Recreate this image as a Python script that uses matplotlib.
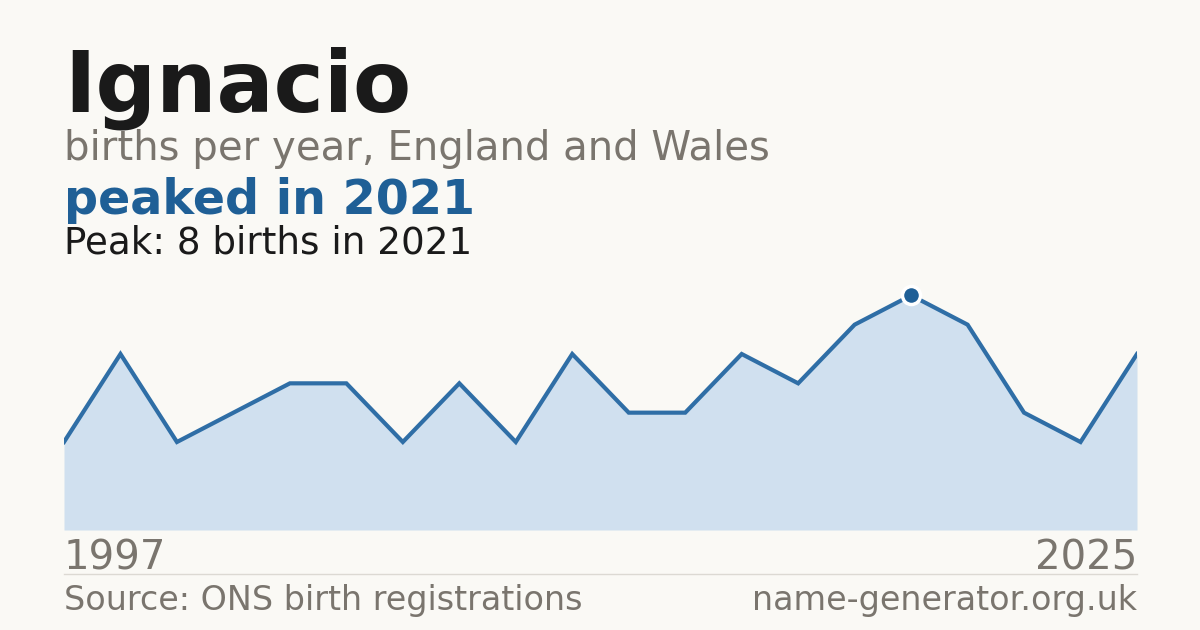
import matplotlib.pyplot as plt

plt.rcParams['font.family'] = ['DejaVu Sans']

# data (evenly spaced points, first 1997, last 2025)
births = [3, 6, 3, 4, 5, 5, 3, 5, 3, 6, 4, 4, 6, 5, 7, 8, 7, 4, 3, 6]
first_year = "1997"
last_year = "2025"
peak_year = 2021
peak_value = max(births)
peak_idx = births.index(peak_value)

bg = '#faf9f5'
blue = '#1f5f96'
grey = '#7a756e'

W, H = 1200, 630
fig = plt.figure(figsize=(12, 6.3), dpi=100, facecolor=bg)

# chart area: x 64..1137 px, y 530 (bottom) .. 266 (top)
ax = fig.add_axes([64 / W, (H - 530) / H, (1137 - 64) / W, (530 - 266) / H])
ax.set_facecolor(bg)
x = list(range(len(births)))
ax.fill_between(x, births, 0, color='#d0e0ef', lw=0)
ax.plot(x, births, color='#2f6ea6', lw=3, solid_joinstyle='miter')
ax.plot(peak_idx, peak_value, 'o', ms=13, color=blue, mec='white', mew=2.5, clip_on=False, zorder=5)
ax.set_xlim(0, len(births) - 1)
ax.set_ylim(0, 9.0)
ax.axis('off')

# text
fig.text(64 / W, 1 - 112 / H, "Ignacio", fontsize=61, fontweight='bold', color='#1a1a1a', va='baseline')
fig.text(64 / W, 1 - 160 / H, "births per year, England and Wales", fontsize=29, color=grey, va='baseline')
fig.text(64 / W, 1 - 214 / H, f"peaked in {peak_year}", fontsize=34.3, fontweight='bold', color=blue, va='baseline')
fig.text(64 / W, 1 - 253 / H, f"Peak: {peak_value} births in {peak_year}", fontsize=26.8, color='#1a1a1a', va='baseline')

fig.text(64 / W, 1 - 570 / H, first_year, fontsize=29, color=grey, va='baseline')
fig.text(1137 / W, 1 - 570 / H, last_year, fontsize=29, color=grey, va='baseline', ha='right')

fig.add_artist(plt.Line2D([64 / W, 1137 / W], [1 - 574 / H, 1 - 574 / H], color='#dcd9d3', lw=1))

fig.text(64 / W, 1 - 610 / H, "Source: ONS birth registrations", fontsize=24, color=grey, va='baseline')
fig.text(1137 / W, 1 - 610 / H, "name-generator.org.uk", fontsize=24, color=grey, va='baseline', ha='right')

fig.savefig('out.png', dpi=100, facecolor=bg)
